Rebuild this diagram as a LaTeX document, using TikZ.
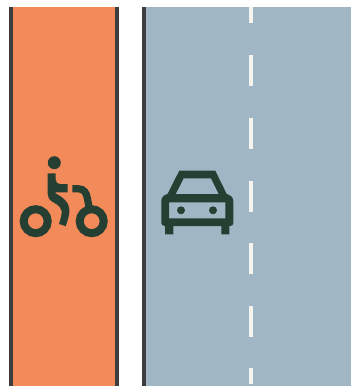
\documentclass[tikz,border=0pt]{standalone}
\definecolor{lane}{HTML}{F38A5A}
\definecolor{road}{HTML}{A1B6C5}
\definecolor{edgeline}{HTML}{3D3D3D}
\definecolor{icon}{HTML}{253F33}
\definecolor{dashw}{HTML}{F5F3EE}
\tikzset{
  edgebar/.style={fill=edgeline,draw=none},
  dashbar/.style={fill=dashw,draw=none},
  iconfill/.style={fill=icon,draw=none},
  iconline/.style={draw=icon,line width=7.2pt}
}
\begin{document}
\begin{tikzpicture}[x=1pt,y=-1pt]
\useasboundingbox (0,0) rectangle (351,386);
\fill[lane] (12,7) rectangle (115.5,386);
\fill[road] (146,7) rectangle (351,386);
\fill[edgebar] (8.5,7) rectangle (12.5,386);
\fill[edgebar] (115,7) rectangle (119,386);
\fill[edgebar] (142,7) rectangle (146,386);
\foreach \a/\b in {7/23,55/86,118/149,181/212,243/274,306/337,368/384}
  \fill[dashbar] (248.5,\a) rectangle (252.5,\b);
% motorcycle
\fill[iconfill] (54.3,162.7) circle (6.5);
\draw[icon,line width=8pt] (35.7,221.2) circle (12);
\draw[icon,line width=8pt] (91.7,221.2) circle (12);
\fill[iconfill] (47.7,173.3) -- (55.7,173.3) -- (55.7,179.5)
  .. controls (55.7,182.5) and (57.5,184) .. (60,184) -- (67.7,184) -- (67.7,192.3) -- (55.7,192.3) -- (55.7,193.5)
  .. controls (63,197) and (69.5,203) .. (69.5,210)
  .. controls (69.5,214) and (68,220) .. (65.7,226.2) -- (59,224)
  .. controls (60.5,219) and (62,214) .. (61.7,211)
  .. controls (60,205) and (55,203.5) .. (52,201.5)
  .. controls (49,199.5) and (47.7,197) .. (47.7,194) -- cycle;
\draw[iconline,line cap=butt] (72.3,188.7) -- (78,188.7)
  .. controls (84,188.7) and (86.5,193) .. (87.3,198) -- (89,207);
% car
\fill[iconfill,even odd rule] (179.3,170.7) -- (215.3,170.7) -- (226.7,194)
  .. controls (230,195) and (233.3,197) .. (233.3,201)
  -- (233.3,223) .. controls (233.3,225) and (232,226) .. (230,226)
  -- (229.3,226) -- (229.3,234.3) -- (221.3,234.3) -- (221.3,226)
  -- (173.3,226) -- (173.3,234.3) -- (165,234.3) -- (165,226)
  -- (165,226) .. controls (163,226) and (161.3,225) .. (161.3,223)
  -- (161.3,201) .. controls (161.3,197) and (164,195) .. (167.5,194) -- cycle
  (183.7,178.3) -- (211,178.3) -- (218.7,194) -- (175.7,194) -- cycle
  (169,202.3) rectangle (225.3,218.3);
\fill[iconfill] (181,210.3) circle (4);
\fill[iconfill] (213,210.3) circle (4);
\end{tikzpicture}
\end{document}
